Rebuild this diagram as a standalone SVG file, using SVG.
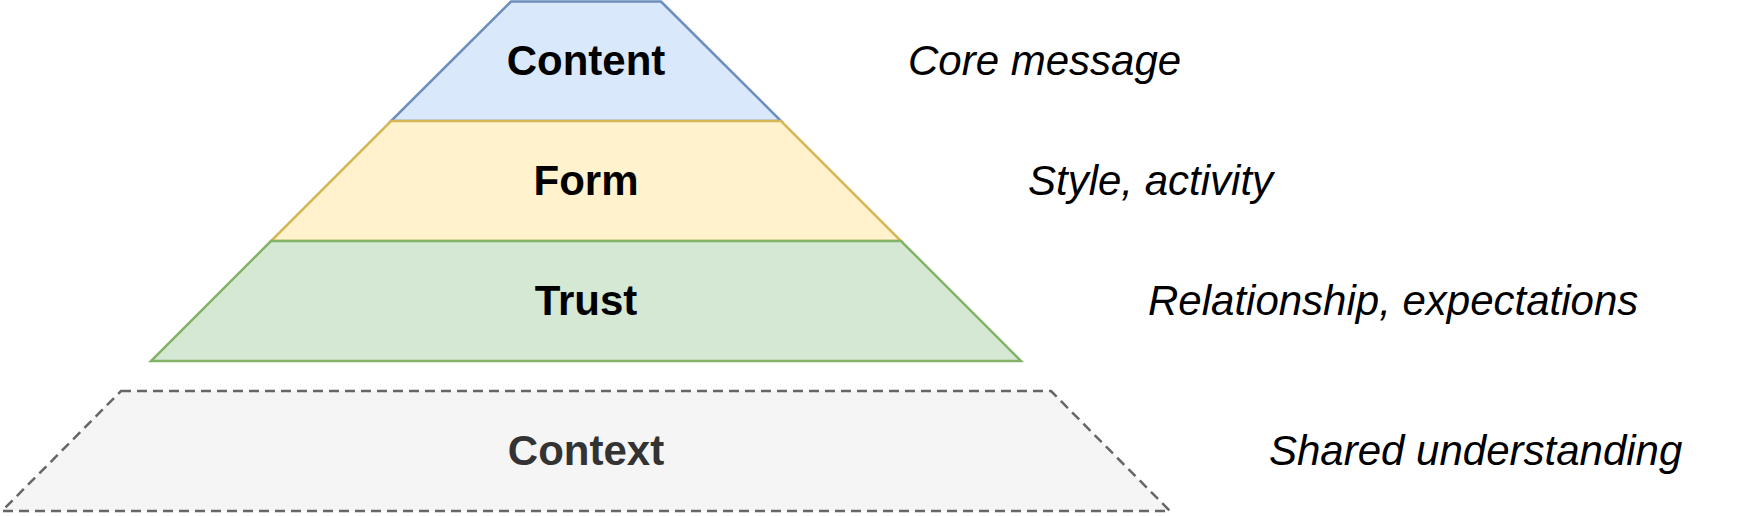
<svg xmlns="http://www.w3.org/2000/svg" width="1743" height="516" viewBox="0 0 1743 516">
<style>
.lbl{font-family:"Liberation Sans",Arial,Helvetica,sans-serif;font-size:42px;font-weight:bold;text-anchor:middle;fill:#000}
.note{font-family:"Liberation Sans",Arial,Helvetica,sans-serif;font-size:42px;font-style:italic;fill:#000}
.shape{stroke-width:2.5}
</style>
<rect width="1743" height="516" fill="#ffffff"/>
<g id="content">
<polygon class="shape" points="511,1.5 661,1.5 781,121 391,121" fill="#dae8fc" stroke="#6c8ebf"/>
<text class="lbl" x="586" y="75">Content</text>
</g>
<g id="form">
<polygon class="shape" points="391,121 781,121 901,241 271,241" fill="#fff2cc" stroke="#d6b656"/>
<text class="lbl" x="586" y="195">Form</text>
</g>
<g id="trust">
<polygon class="shape" points="271,241 901,241 1021,361 151,361" fill="#d5e8d4" stroke="#82b366"/>
<text class="lbl" x="586" y="315">Trust</text>
</g>
<g id="context">
<polygon class="shape" points="121,391 1051,391 1170,511 2,511" fill="#f5f5f5" stroke="#666666" stroke-dasharray="10,6"/>
<text class="lbl" x="586" y="465" style="fill:#333333">Context</text>
</g>
<g id="notes">
<text class="note" x="908" y="75">Core message</text>
<text class="note" x="1028" y="195">Style, activity</text>
<text class="note" x="1148" y="315">Relationship, expectations</text>
<text class="note" x="1269" y="465">Shared understanding</text>
</g>
<g id="connectors"></g>
</svg>
